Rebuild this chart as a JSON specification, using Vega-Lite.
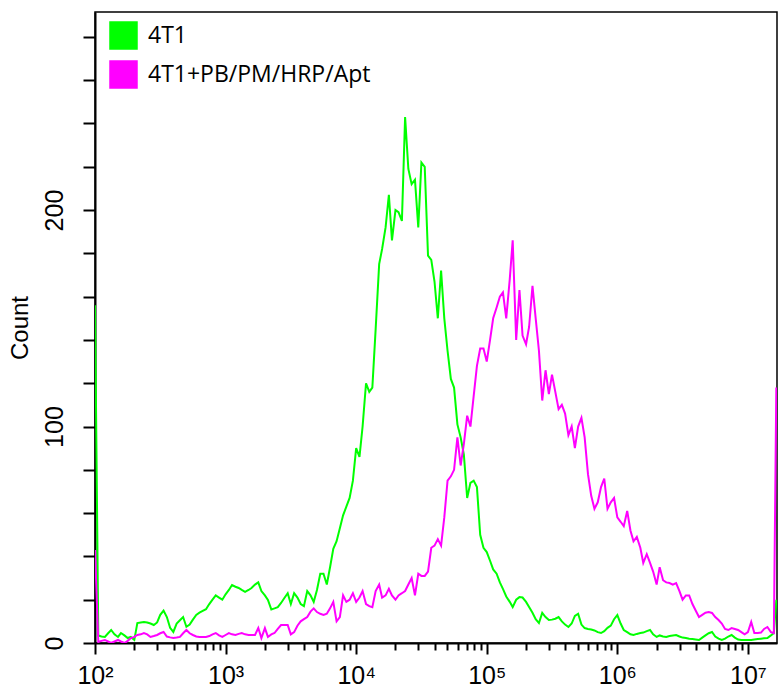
{
"$schema": "https://vega.github.io/schema/vega-lite/v6.json",
"autosize": {"type": "none"},
"width": 682, "height": 631,
"padding": {"left": 95, "top": 12, "right": 1, "bottom": 49},
"background": "white",
"config": {"view": {"stroke": "black", "strokeWidth": 1.5}, "font": "Liberation Sans",
"axisY": {"titleFontSize": 24, "titleFontWeight": "normal", "titleColor": "black", "titleFont": "Liberation Sans", "titlePadding": 10}},
"datasets": {
"control": [
{"x":100,"count":156},{"x":106,"count":3.5},{"x":112,"count":3},{"x":119,"count":2.8},{"x":126,"count":4.5},{"x":133,"count":6},{"x":141,"count":4},{"x":150,"count":2.8},{"x":158,"count":4.6},{"x":168,"count":3.5},
{"x":178,"count":2.3},{"x":188,"count":2.8},{"x":200,"count":1.4},{"x":211,"count":9.2},{"x":224,"count":9.5},{"x":237,"count":9.7},{"x":251,"count":9.5},{"x":266,"count":9},{"x":282,"count":8.3},{"x":299,"count":9.5},
{"x":316,"count":13},{"x":335,"count":15},{"x":355,"count":12},{"x":376,"count":7},{"x":398,"count":5.1},{"x":422,"count":9},{"x":447,"count":10.5},{"x":473,"count":12},{"x":501,"count":7.5},{"x":531,"count":8.5},
{"x":562,"count":10.8},{"x":596,"count":13},{"x":631,"count":14},{"x":668,"count":14.8},{"x":708,"count":15.6},{"x":750,"count":18},{"x":794,"count":20},{"x":841,"count":22},{"x":891,"count":21},{"x":944,"count":20},
{"x":1000,"count":22.5},{"x":1060,"count":24.5},{"x":1120,"count":26.8},{"x":1190,"count":26},{"x":1260,"count":25.4},{"x":1330,"count":24.5},{"x":1410,"count":23.6},{"x":1500,"count":24.5},{"x":1580,"count":25.4},{"x":1680,"count":27},
{"x":1780,"count":28},{"x":1880,"count":24},{"x":2000,"count":22},{"x":2110,"count":19.9},{"x":2240,"count":15.5},{"x":2370,"count":16},{"x":2510,"count":16.6},{"x":2660,"count":18.5},{"x":2820,"count":20.8},{"x":2990,"count":23},
{"x":3160,"count":18},{"x":3350,"count":23},{"x":3550,"count":21},{"x":3760,"count":18},{"x":3980,"count":17},{"x":4220,"count":24},{"x":4470,"count":22},{"x":4730,"count":19},{"x":5010,"count":24.5},{"x":5310,"count":32},
{"x":5620,"count":32},{"x":5960,"count":27},{"x":6310,"count":35},{"x":6680,"count":43.5},{"x":7080,"count":47},{"x":7500,"count":53},{"x":7940,"count":59},{"x":8410,"count":63},{"x":8910,"count":67},{"x":9440,"count":75},
{"x":10000,"count":90},{"x":10600,"count":86},{"x":11200,"count":100},{"x":11900,"count":120},{"x":12600,"count":116},{"x":13300,"count":118},{"x":14100,"count":145},{"x":15000,"count":175},{"x":15800,"count":182},{"x":16800,"count":192},
{"x":17800,"count":207},{"x":18800,"count":186},{"x":20000,"count":200},{"x":21100,"count":199},{"x":22400,"count":195},{"x":23700,"count":243},{"x":25100,"count":219},{"x":26600,"count":212},{"x":28200,"count":214},{"x":29900,"count":192},
{"x":31600,"count":222},{"x":33500,"count":220},{"x":35500,"count":179},{"x":37600,"count":177},{"x":39800,"count":167},{"x":42200,"count":150},{"x":44700,"count":172},{"x":47300,"count":150},{"x":50100,"count":135},{"x":53100,"count":122},
{"x":56200,"count":118},{"x":59600,"count":101},{"x":63100,"count":95},{"x":66800,"count":87},{"x":70800,"count":67},{"x":75000,"count":74},{"x":79400,"count":75},{"x":84100,"count":72},{"x":89100,"count":50},{"x":94400,"count":44},
{"x":100000,"count":42},{"x":106000,"count":38},{"x":112000,"count":34},{"x":119000,"count":32},{"x":126000,"count":28},{"x":133000,"count":25},{"x":141000,"count":21.5},{"x":150000,"count":19},{"x":158000,"count":16.6},{"x":168000,"count":20},
{"x":178000,"count":21.2},{"x":188000,"count":21},{"x":200000,"count":19},{"x":211000,"count":16.6},{"x":224000,"count":14},{"x":237000,"count":11},{"x":251000,"count":9.2},{"x":266000,"count":13.9},{"x":282000,"count":12},{"x":299000,"count":10.6},
{"x":316000,"count":10.8},{"x":335000,"count":11.2},{"x":355000,"count":12},{"x":376000,"count":10},{"x":398000,"count":8.5},{"x":422000,"count":7.4},{"x":447000,"count":9},{"x":473000,"count":12.5},{"x":501000,"count":13.5},{"x":531000,"count":8.5},
{"x":562000,"count":6.9},{"x":596000,"count":6.5},{"x":631000,"count":6.2},{"x":668000,"count":5.8},{"x":708000,"count":5},{"x":750000,"count":4.6},{"x":794000,"count":5.5},{"x":841000,"count":7},{"x":891000,"count":8},{"x":944000,"count":11},
{"x":1000000,"count":12.9},{"x":1060000,"count":9},{"x":1120000,"count":6},{"x":1190000,"count":5},{"x":1260000,"count":4},{"x":1330000,"count":3.7},{"x":1410000,"count":4.2},{"x":1500000,"count":4.6},{"x":1580000,"count":4.8},{"x":1680000,"count":5.5},
{"x":1780000,"count":6},{"x":1880000,"count":4},{"x":2000000,"count":2.8},{"x":2110000,"count":3.5},{"x":2240000,"count":3},{"x":2370000,"count":2.8},{"x":2510000,"count":3.2},{"x":2660000,"count":3.5},{"x":2820000,"count":3.7},{"x":2990000,"count":3},
{"x":3160000,"count":2.5},{"x":3350000,"count":2.3},{"x":3550000,"count":2},{"x":3760000,"count":1.8},{"x":3980000,"count":1.6},{"x":4220000,"count":1.4},{"x":4470000,"count":2.5},{"x":4730000,"count":3.5},{"x":5010000,"count":4.5},{"x":5310000,"count":5.1},
{"x":5620000,"count":3},{"x":5960000,"count":2},{"x":6310000,"count":1.4},{"x":6680000,"count":2},{"x":7080000,"count":3},{"x":7500000,"count":3.7},{"x":7940000,"count":2.5},{"x":8410000,"count":1.6},{"x":8910000,"count":1.4},{"x":9440000,"count":1.4},
{"x":10000000,"count":1.4},{"x":10600000,"count":1.4},{"x":11200000,"count":1.6},{"x":11900000,"count":1.8},{"x":12600000,"count":2},{"x":13300000,"count":2.2},{"x":14100000,"count":2.3},{"x":15000000,"count":3.5},{"x":15800000,"count":4.6},{"x":16500000,"count":20}
],
"treated": [
{"x":100,"count":43},{"x":106,"count":0.5},{"x":112,"count":1},{"x":119,"count":1.4},{"x":126,"count":0.7},{"x":133,"count":0},{"x":141,"count":0.7},{"x":150,"count":1.4},{"x":158,"count":0.7},{"x":168,"count":0},
{"x":178,"count":1},{"x":188,"count":2.3},{"x":200,"count":2.8},{"x":211,"count":3.7},{"x":224,"count":4},{"x":237,"count":4.6},{"x":251,"count":4},{"x":266,"count":2.8},{"x":282,"count":3.2},{"x":299,"count":3.7},
{"x":316,"count":4.5},{"x":335,"count":5.1},{"x":355,"count":3},{"x":376,"count":2.6},{"x":398,"count":2.3},{"x":422,"count":2.5},{"x":447,"count":2.8},{"x":473,"count":4.5},{"x":501,"count":6},{"x":531,"count":4.5},
{"x":562,"count":3.7},{"x":596,"count":3},{"x":631,"count":2.8},{"x":668,"count":2.8},{"x":708,"count":2.8},{"x":750,"count":3.2},{"x":794,"count":4},{"x":841,"count":4.6},{"x":891,"count":3.5},{"x":944,"count":2.8},
{"x":1000,"count":3.7},{"x":1060,"count":4.6},{"x":1120,"count":4},{"x":1190,"count":3.7},{"x":1260,"count":4.2},{"x":1330,"count":4.6},{"x":1410,"count":4},{"x":1500,"count":3.7},{"x":1580,"count":3.7},{"x":1680,"count":3.7},
{"x":1780,"count":6.9},{"x":1880,"count":2.3},{"x":2000,"count":6.9},{"x":2110,"count":2.8},{"x":2240,"count":4},{"x":2370,"count":4.6},{"x":2510,"count":6.5},{"x":2660,"count":8.3},{"x":2820,"count":8.3},{"x":2990,"count":8.3},
{"x":3160,"count":4},{"x":3350,"count":5},{"x":3550,"count":8},{"x":3760,"count":10},{"x":3980,"count":11},{"x":4220,"count":12},{"x":4470,"count":14.5},{"x":4730,"count":16},{"x":5010,"count":14.3},{"x":5310,"count":13.5},
{"x":5620,"count":13},{"x":5960,"count":13.5},{"x":6310,"count":16},{"x":6680,"count":19},{"x":7080,"count":10},{"x":7500,"count":12},{"x":7940,"count":22},{"x":8410,"count":19},{"x":8910,"count":20},{"x":9440,"count":23},
{"x":10000,"count":19},{"x":10600,"count":21},{"x":11200,"count":24},{"x":11900,"count":18},{"x":12600,"count":17},{"x":13300,"count":16.5},{"x":14100,"count":24},{"x":15000,"count":27},{"x":15800,"count":21},{"x":16800,"count":22},
{"x":17800,"count":25},{"x":18800,"count":22},{"x":20000,"count":20},{"x":21100,"count":22},{"x":22400,"count":23},{"x":23700,"count":24},{"x":25100,"count":27},{"x":26600,"count":30},{"x":28200,"count":22},{"x":29900,"count":32},
{"x":31600,"count":31},{"x":33500,"count":31},{"x":35500,"count":33},{"x":37600,"count":44},{"x":39800,"count":45},{"x":42200,"count":48},{"x":44700,"count":45},{"x":47300,"count":58},{"x":50100,"count":75},{"x":53100,"count":77},
{"x":56200,"count":80},{"x":59600,"count":95},{"x":63100,"count":82},{"x":66800,"count":92},{"x":70800,"count":105},{"x":75000,"count":100},{"x":79400,"count":114},{"x":84100,"count":128},{"x":89100,"count":136},{"x":94400,"count":136},
{"x":100000,"count":130},{"x":106000,"count":140},{"x":112000,"count":150},{"x":119000,"count":155},{"x":126000,"count":160},{"x":133000,"count":162},{"x":141000,"count":150},{"x":150000,"count":168},{"x":158000,"count":186},{"x":168000,"count":140},
{"x":178000,"count":163},{"x":188000,"count":142},{"x":200000,"count":138},{"x":211000,"count":146},{"x":224000,"count":165},{"x":237000,"count":150},{"x":251000,"count":135},{"x":266000,"count":112},{"x":282000,"count":126},{"x":299000,"count":115},
{"x":316000,"count":124},{"x":335000,"count":116},{"x":355000,"count":108},{"x":376000,"count":110},{"x":398000,"count":106},{"x":422000,"count":96},{"x":447000,"count":100},{"x":473000,"count":90},{"x":501000,"count":100},{"x":531000,"count":104},
{"x":562000,"count":95},{"x":596000,"count":78},{"x":631000,"count":68},{"x":668000,"count":62},{"x":708000,"count":65},{"x":750000,"count":72},{"x":794000,"count":76},{"x":841000,"count":62},{"x":891000,"count":65},{"x":944000,"count":67},
{"x":1000000,"count":58},{"x":1060000,"count":56},{"x":1120000,"count":54},{"x":1190000,"count":61},{"x":1260000,"count":52},{"x":1330000,"count":47},{"x":1410000,"count":49},{"x":1500000,"count":44},{"x":1580000,"count":37},{"x":1680000,"count":41},
{"x":1780000,"count":37},{"x":1880000,"count":33},{"x":2000000,"count":27},{"x":2110000,"count":35},{"x":2240000,"count":29},{"x":2370000,"count":28},{"x":2510000,"count":27.7},{"x":2660000,"count":27},{"x":2820000,"count":27.7},{"x":2990000,"count":24},
{"x":3160000,"count":20},{"x":3350000,"count":22},{"x":3550000,"count":22},{"x":3760000,"count":18},{"x":3980000,"count":15},{"x":4220000,"count":12},{"x":4470000,"count":13},{"x":4730000,"count":14},{"x":5010000,"count":14.3},{"x":5310000,"count":13.9},
{"x":5620000,"count":12},{"x":5960000,"count":10.6},{"x":6310000,"count":9},{"x":6680000,"count":6.5},{"x":7080000,"count":6},{"x":7500000,"count":6.9},{"x":7940000,"count":6.5},{"x":8410000,"count":6},{"x":8910000,"count":5},{"x":9440000,"count":4},
{"x":10000000,"count":5},{"x":10600000,"count":9.7},{"x":11200000,"count":4.6},{"x":11900000,"count":4.6},{"x":12600000,"count":4.8},{"x":13300000,"count":6.5},{"x":14100000,"count":7.4},{"x":15000000,"count":5},{"x":15800000,"count":4.6},{"x":16500000,"count":118}
],
"series": [{"series": "4T1"}, {"series": "4T1+PB/PM/HRP/Apt"}]
},
"layer": [
{
"data": {"name": "series"},
"mark": {"type": "point", "shape": "square", "filled": true, "size": 0, "stroke": "black", "strokeWidth": 1.5, "opacity": 1},
"encoding": {
"fill": {"field": "series", "type": "nominal",
"scale": {"domain": ["4T1", "4T1+PB/PM/HRP/Apt"], "range": ["#00ff00", "#ff00ff"]},
"legend": {"orient": "none", "legendX": 14, "legendY": 9, "padding": 0, "title": null,
"symbolType": "square", "symbolSize": 729, "symbolStrokeWidth": 1.5,
"labelFontSize": 23, "labelFont": "Open Sans", "labelColor": "black", "labelOffset": 10,
"rowPadding": 6, "labelLimit": 400}}
}
},
{
"data": {"name": "control"},
"mark": {"type": "line", "strokeWidth": 2, "clip": true},
"encoding": {
"x": {"field": "x", "type": "quantitative",
"scale": {"type": "log", "domain": [100, 16700000], "nice": false},
"axis": {"orient": "bottom", "values": [100, 1000, 10000, 100000, 1000000, 10000000],
"labelExpr": "datum.value == 100 ? '10²' : datum.value == 1000 ? '10³' : datum.value == 10000 ? '10⁴' : datum.value == 100000 ? '10⁵' : datum.value == 1000000 ? '10⁶' : '10⁷'",
"tickSize": 11, "tickWidth": 2, "tickColor": "black", "domainColor": "black", "domainWidth": 2,
"labelFontSize": 25, "labelColor": "black", "labelPadding": 9, "labelFont": "Liberation Sans",
"labelFlush": false, "labelOverlap": false, "grid": false, "title": null}},
"y": {"field": "count", "type": "quantitative",
"scale": {"domain": [0, 291.5], "nice": false},
"axis": {"values": [0, 20, 40, 60, 80, 100, 120, 140, 160, 180, 200, 220, 240, 260, 280],
"labelExpr": "datum.value % 100 === 0 ? datum.label : ''",
"tickSize": 12, "tickWidth": 2, "tickColor": "black", "domainColor": "black", "domainWidth": 2,
"labelAngle": -90, "labelAlign": "center", "labelBaseline": "bottom",
"labelFontSize": 25, "labelColor": "black", "labelPadding": 16, "labelFont": "Liberation Sans",
"grid": false, "title": "Count", "titleFontSize": 24, "titleFontWeight": "normal", "titleColor": "black", "titlePadding": 10}},
"stroke": {"datum": "4T1", "type": "nominal",
"scale": {"domain": ["4T1", "4T1+PB/PM/HRP/Apt"], "range": ["#00ff00", "#ff00ff"]},
"legend": null}
}
},
{
"data": {"name": "treated"},
"mark": {"type": "line", "strokeWidth": 2, "clip": true},
"encoding": {
"x": {"field": "x", "type": "quantitative",
"axis": {"orient": "bottom",
"values": [200,300,400,500,600,700,800,900,2000,3000,4000,5000,6000,7000,8000,9000,20000,30000,40000,50000,60000,70000,80000,90000,200000,300000,400000,500000,600000,700000,800000,900000,2000000,3000000,4000000,5000000,6000000,7000000,8000000,9000000],
"tickSize": 7, "tickWidth": 2, "tickColor": "black", "labels": false, "domain": false, "grid": false, "title": null}},
"y": {"field": "count", "type": "quantitative"},
"stroke": {"datum": "4T1+PB/PM/HRP/Apt", "type": "nominal", "legend": null}
}
}
],
"resolve": {"axis": {"x": "independent"}}
}
